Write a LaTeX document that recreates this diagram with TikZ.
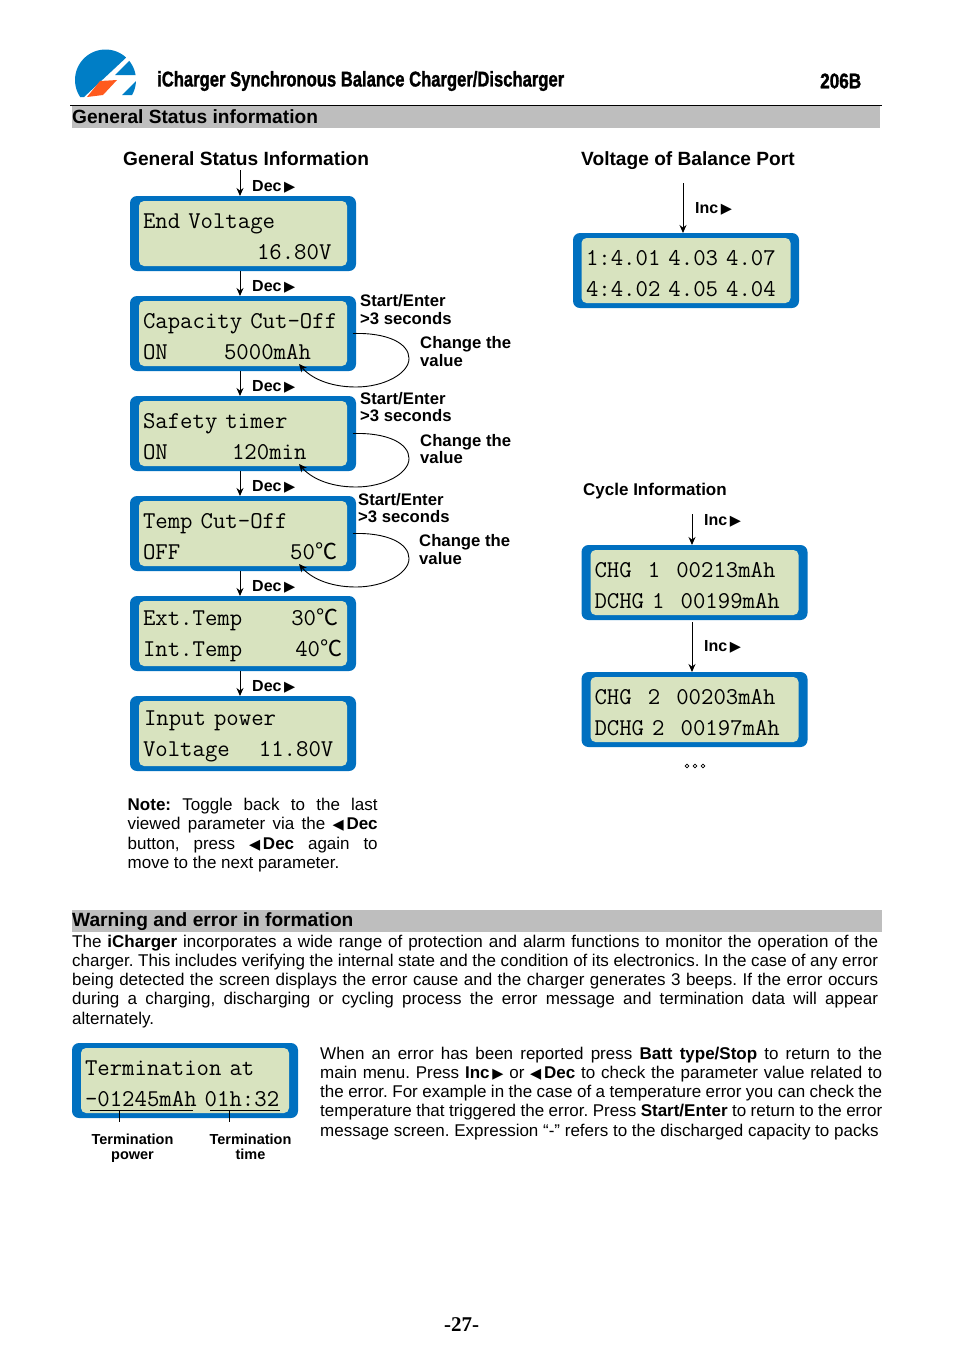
\documentclass[tikz,border=0pt]{standalone}
\usepackage{fontspec}
\usepackage{graphicx}
\setmainfont{Liberation Sans}
\newfontfamily\symfont{DejaVu Sans}
\newfontfamily\pagefont{Liberation Serif}
\newfontfamily\cjkfont{Noto Sans CJK SC}
\newfontfamily\headfont[FakeBold=1.5]{Liberation Sans Bold}
\usetikzlibrary{arrows.meta,positioning,calc}
\definecolor{lcdblue}{HTML}{0070C0}
\definecolor{lcdgreen}{HTML}{D8E3BF}
\definecolor{bargray}{HTML}{BEBEBE}
\definecolor{logored}{HTML}{FF5A1E}
\newcommand{\righttri}{{\symfont\fontsize{14.5}{14.5}\selectfont ▶}}
\newcommand{\lefttri}{{\symfont\fontsize{14.5}{14.5}\selectfont ◀}}
\newcommand{\degC}{{\cjkfont\fontsize{22}{22}\selectfont ℃}}
\newcommand{\lineto}[2]{\makebox[#1][s]{#2}}

\begin{document}
\begin{tikzpicture}[
    x=1pt, y=-1pt,
    >={Stealth[length=8pt,width=7pt]},
    lcd/.style={fill=lcdblue, rounded corners=7pt, minimum width=226pt, minimum height=75pt, inner sep=0pt, outer sep=0pt},
    panel/.style={fill=lcdgreen, rounded corners=5pt, minimum width=208pt, minimum height=65pt, text width=200pt, inner xsep=4pt, inner ysep=0pt, align=left, execute at begin node={\rule{0pt}{21pt}}, font=\fontsize{24.1}{31}\selectfont\ttfamily\addfontfeature{FakeBold=0.6}},
    keylabel/.style={anchor=west, inner sep=0pt, font=\fontsize{16}{17}\selectfont\bfseries},
    hint/.style={anchor=west, inner sep=0pt, align=left, font=\fontsize{16.7}{17.7}\selectfont\bfseries},
    title/.style={anchor=west, inner sep=0pt, font=\fontsize{19.15}{22}\selectfont\bfseries},
    para/.style={anchor=north west, inner sep=0pt, align=left, font=\fontsize{17}{19.3}\selectfont\frenchspacing},
    caption/.style={anchor=north, inner sep=0pt, align=center, font=\fontsize{14.5}{15.2}\selectfont\bfseries},
    flow/.style={->, line width=1pt},
    loopback/.style={->, line width=0.9pt}
]
    \useasboundingbox (0,0) rectangle (954,1350);

    % header
    \begin{scope}
        \clip (105.5,80) circle (30.5);
        \fill[lcdblue!90!cyan] (60,40) -- (145,40) -- (84,97) -- (60,97) -- cycle;
        \fill[lcdblue!90!cyan] (115,75) -- (128,62) -- (140,50) -- (140,75) -- cycle;
        \fill[lcdblue!90!cyan] (137,80) -- (140,80) -- (140,95) -- (122,95) -- cycle;
    \end{scope}
    \fill[logored] (100,81) -- (117,80) -- (103,95) -- (87,97) -- cycle;
    \node[anchor=west, inner sep=0pt] (doctitle) at (157,81) {\resizebox*{407pt}{20pt}{\headfont iCharger Synchronous Balance Charger/Discharger}};
    \node[anchor=west, inner sep=0pt] (model) at (820,81) {\resizebox*{41pt}{15pt}{\headfont 206B}};
    \draw[line width=0.8pt] (70,105) -- (882,105);

    % section bars
    \fill[bargray] (72,106) rectangle (880,128);
    \fill[bargray] (72,910) rectangle (882,932);
    \node[title] (secgeneral) at (72,116.5) {General Status information};
    \node[title] (secwarning) at (72,922) {Warning and error in formation};

    % left column
    \node[title] (statustitle) at (123,159) {General Status Information};
    \coordinate (statustop) at (240,170);
    \node[lcd] (end) at (243,233.5) {};
    \node[lcd, below=25pt of end] (cap) {};
    \node[lcd, below=25pt of cap] (safety) {};
    \node[lcd, below=25pt of safety] (temp) {};
    \node[lcd, below=25pt of temp] (ext) {};
    \node[lcd, below=25pt of ext] (input) {};

    \node[panel] (endtext) at (end) {End Voltage\\\hspace*{114pt}16.80V};
    \node[panel] (captext) at (cap) {Capacity Cut-Off\\ON~~~~~~~5000mAh};
    \node[panel] (safetytext) at (safety) {Safety timer\\ON~~~~~~~~120min};
    \node[panel] (temptext) at (temp) {Temp Cut-Off\\OFF\hspace*{110pt}50\degC};
    \node[panel] (exttext) at (ext) {Ext.Temp\hspace*{49pt}30\degC\\Int.Temp\hspace*{53pt}40\degC};
    \node[panel] (inputtext) at (input) {\hspace*{1pt}Input power\\Voltage\hspace*{29pt}11.80V};

    \draw[flow] (statustop) -- ([xshift=-3pt]end.north);
    \node[keylabel] (decend) at ([xshift=9pt,yshift=9pt]end.north) {Dec\,\righttri};
    \foreach \upper/\lower in {end/cap, cap/safety, safety/temp, temp/ext, ext/input} {
        \draw[flow] ([xshift=-3pt]\upper.south) -- ([xshift=-3pt]\lower.north);
        \node[keylabel] (dec\lower) at ([xshift=9pt,yshift=9pt]\lower.north) {Dec\,\righttri};
    }

    \foreach \lcdname in {cap, safety, temp} {
        \coordinate (\lcdname far) at ([xshift=53pt,yshift=-25pt]\lcdname.east);
        \coordinate (\lcdname low) at ([yshift=-53.5pt]\lcdname.east);
        \coordinate (\lcdname tip) at ([xshift=56pt,yshift=7pt]\lcdname.south);
        \draw[loopback] ([xshift=-3pt]\lcdname.east) .. controls +(35,-1) and +(0,-15) .. (\lcdname far)
            .. controls +(0,15) and +(28,0) .. (\lcdname low)
            .. controls +(-28,0) and +(11,13) .. (\lcdname tip);
    }

    \node[hint] (holdcap) at (360,309.5) {Start/Enter\\>3 seconds};
    \node[hint] (changecap) at (420,351.5) {Change the\\value};
    \node[hint] (holdsafety) at (360,407) {Start/Enter\\>3 seconds};
    \node[hint] (changesafety) at (420,449) {Change the\\value};
    \node[hint] (holdtemp) at (358,508) {Start/Enter\\>3 seconds};
    \node[hint] (changetemp) at (419,549.5) {Change the\\value};

    \node[para] (note) at (127.5,798) {\lineto{250pt}{\textbf{Note:} Toggle back to the last}\\
        \lineto{250pt}{viewed parameter via the \lefttri\,\textbf{Dec}}\\
        \lineto{250pt}{button, press \lefttri\,\textbf{Dec} again to}\\
        move to the next parameter.};

    % right column
    \node[title] (balancetitle) at (581,161) {Voltage of Balance Port};
    \coordinate (balancetop) at (683,183);
    \node[lcd] (balance) at (686,270.5) {};
    \node[panel, minimum width=209pt] (balancetext) at (balance) {1:4.01 4.03 4.07\\4:4.02 4.05 4.04};
    \draw[flow] (balancetop) -- ([xshift=-3pt]balance.north);
    \node[keylabel] (incbalance) at ([xshift=9pt,yshift=24pt]balance.north) {Inc\,\righttri};

    \node[anchor=west, inner sep=0pt, font=\fontsize{17}{19}\selectfont\bfseries] (cycletitle) at (583,491) {Cycle Information};
    \coordinate (cycletop) at (692,514);
    \node[lcd] (cycleone) at (694.5,582.5) {};
    \node[lcd, below=52pt of cycleone] (cycletwo) {};
    \node[panel] (cycleonetext) at (cycleone) {CHG~~1~~00213mAh\\DCHG~1~~00199mAh};
    \node[panel] (cycletwotext) at (cycletwo) {CHG~~2~~00203mAh\\DCHG~2~~00197mAh};
    \draw[flow] (cycletop) -- ([xshift=-2.5pt]cycleone.north);
    \draw[flow] ([xshift=-2.5pt,yshift=-2pt]cycleone.south) -- ([xshift=-2.5pt]cycletwo.north);
    \node[keylabel] (inccycleone) at ([xshift=9.5pt,yshift=24pt]cycleone.north) {Inc\,\righttri};
    \node[keylabel] (inccycletwo) at ([xshift=9.5pt,yshift=25pt]cycletwo.north) {Inc\,\righttri};
    \foreach \dotx in {687,695,703} {
        \draw[line width=0.7pt] (\dotx,766) circle (1.8);
    }

    % warning text
    \node[para] (warning) at (72,934.5) {\lineto{806pt}{The \textbf{iCharger} incorporates a wide range of protection and alarm functions to monitor the operation of the}\\
        \lineto{806pt}{charger. This includes verifying the internal state and the condition of its electronics. In the case of any error}\\
        \lineto{806pt}{being detected the screen displays the error cause and the charger generates 3 beeps. If the error occurs}\\
        \lineto{806pt}{during a charging, discharging or cycling process the error message and termination data will appear}\\
        alternately.};

    \node[lcd] (term) at (185,1080.5) {};
    \node[panel] (termtext) at (term) {Termination at\\-01245mAh 01h:32};
    \draw[line width=0.7pt] ([xshift=18pt,yshift=8pt]term.south west) -- ([xshift=121pt,yshift=8pt]term.south west);
    \draw[line width=0.7pt] ([xshift=47pt,yshift=8pt]term.south west) -- ([xshift=47pt,yshift=-4pt]term.south west);
    \draw[line width=0.7pt] ([xshift=138pt,yshift=8pt]term.south west) -- ([xshift=208pt,yshift=8pt]term.south west);
    \draw[line width=0.7pt] ([xshift=157pt,yshift=8pt]term.south west) -- ([xshift=157pt,yshift=-4pt]term.south west);
    \node[caption] (termpower) at (132.5,1134) {Termination\\power};
    \node[caption] (termtime) at (250.5,1134) {Termination\\time};

    \node[para] (errorhelp) at (320,1046.5) {\lineto{562pt}{When an error has been reported press \textbf{Batt type/Stop} to return to the}\\
        \lineto{562pt}{main menu. Press \textbf{Inc}\,\righttri\ or \lefttri\,\textbf{Dec} to check the parameter value related to}\\
        \lineto{562pt}{the error. For example in the case of a temperature error you can check the}\\
        \lineto{562pt}{temperature that triggered the error. Press \textbf{Start/Enter} to return to the error}\\
        message screen. Expression “-” refers to the discharged capacity to packs};

    \node[inner sep=0pt, font=\pagefont\fontsize{21}{23}\selectfont\bfseries] (pagenum) at (461.5,1325) {-27-};
\end{tikzpicture}
\end{document}
